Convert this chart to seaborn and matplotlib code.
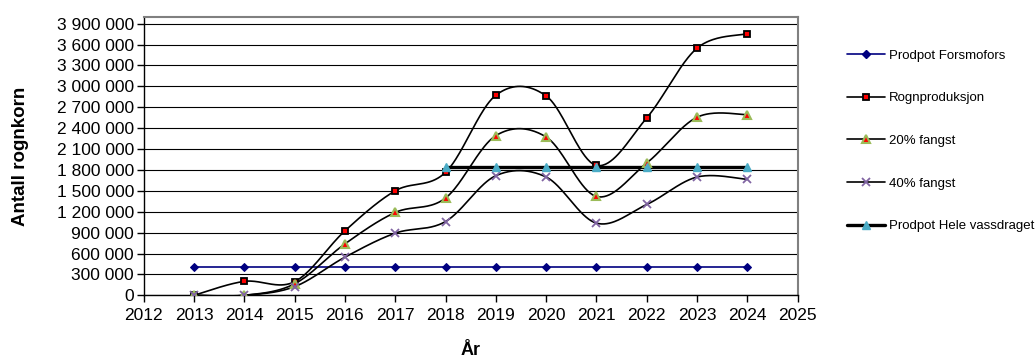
import numpy as np
import pandas as pd
import matplotlib
matplotlib.use("Agg")
import matplotlib.pyplot as plt
from matplotlib.ticker import FuncFormatter, MultipleLocator
from matplotlib.lines import Line2D
import seaborn as sns

# Data
years = [2013, 2014, 2015, 2016, 2017, 2018, 2019, 2020, 2021, 2022, 2023, 2024]
prodpot_forsmofors = [410000] * 12
rognproduksjon = [0, 200000, 195000, 925000, 1500000, 1765000, 2872000,
                  2863000, 1865000, 2547000, 3548000, 3755000]
fangst_20 = [0, 0, 165000, 738000, 1189000, 1396000, 2292000,
             2273000, 1419000, 1899000, 2556000, 2594000]
fangst_40 = [0, 0, 124000, 547000, 892000, 1059000, 1717000,
             1698000, 1036000, 1304000, 1698000, 1664000]
years_hele = [2018, 2019, 2020, 2021, 2022, 2023, 2024]
prodpot_hele = [1835000] * 7

labels = ["Prodpot Forsmofors", "Rognproduksjon", "20% fangst",
          "40% fangst", "Prodpot Hele vassdraget"]


def smooth(xs, ys, n=40):
    """Cubic Bezier smoothing through every point (Catmull-Rom style control points)."""
    x = np.asarray(xs, float)
    y = np.asarray(ys, float)
    px = np.concatenate([[x[0]], x, [x[-1]]])
    py = np.concatenate([[y[0]], y, [y[-1]]])
    out_x, out_y = [], []
    t = np.linspace(0, 1, n)
    for i in range(len(x) - 1):
        p0 = np.array([px[i + 1], py[i + 1]])
        p3 = np.array([px[i + 2], py[i + 2]])
        c1 = p0 + (np.array([px[i + 2], py[i + 2]]) - np.array([px[i], py[i]])) / 6
        c2 = p3 - (np.array([px[i + 3], py[i + 3]]) - np.array([px[i + 1], py[i + 1]])) / 6
        b = ((1 - t) ** 3)[:, None] * p0 + (3 * (1 - t) ** 2 * t)[:, None] * c1 \
            + (3 * (1 - t) * t ** 2)[:, None] * c2 + (t ** 3)[:, None] * p3
        if i > 0:
            b = b[1:]
        out_x.extend(b[:, 0])
        out_y.extend(b[:, 1])
    return pd.DataFrame({"x": out_x, "y": out_y})


sns.set_theme(style="white")
plt.rcParams["font.family"] = ["Liberation Sans", "DejaVu Sans"]
plt.rcParams["text.color"] = "black"
plt.rcParams["axes.labelcolor"] = "black"
plt.rcParams["xtick.color"] = "black"
plt.rcParams["ytick.color"] = "black"

fig = plt.figure(figsize=(10.35, 3.6), dpi=100)
ax = fig.add_axes([0.1388, 0.1797, 0.6319, 0.774])

# Prodpot Forsmofors: straight navy line with diamonds
df_f = pd.DataFrame({"x": years, "y": prodpot_forsmofors})
sns.lineplot(data=df_f, x="x", y="y", ax=ax, color="#000080", lw=1.2,
             marker="D", markersize=3.8, markeredgecolor="#000080",
             markerfacecolor="#000080", estimator=None, legend=False)

# Smoothed series
series = [
    (rognproduksjon, dict(marker="s", markersize=4.6, markerfacecolor="#FF0000",
                          markeredgecolor="#000000", markeredgewidth=1.3)),
    (fangst_20, dict(marker="^", markersize=6, markerfacecolor="#FF0000",
                     markeredgecolor="#9BBB59", markeredgewidth=1.5)),
    (fangst_40, dict(marker="x", markersize=5.5, markeredgecolor="#8064A2",
                     markeredgewidth=1.3)),
]
for vals, mk in series:
    sm = smooth(years, vals)
    sns.lineplot(data=sm, x="x", y="y", ax=ax, color="black", lw=1.2,
                 sort=False, estimator=None, legend=False)
    ax.plot(years, vals, linestyle="none", zorder=4, **mk)

# Prodpot Hele vassdraget: thick black line with cyan triangles
df_h = pd.DataFrame({"x": years_hele, "y": prodpot_hele})
sns.lineplot(data=df_h, x="x", y="y", ax=ax, color="black", lw=2.4,
             estimator=None, legend=False)
ax.plot(years_hele, prodpot_hele, linestyle="none", marker="^", markersize=6.2,
        markerfacecolor="#4BACC6", markeredgecolor="#4BACC6", zorder=5)

# Axes
ax.set_xlim(2012, 2025)
ax.set_ylim(0, 4000000)
ax.xaxis.set_major_locator(MultipleLocator(1))
ax.yaxis.set_major_locator(MultipleLocator(300000))
ax.yaxis.set_major_formatter(FuncFormatter(lambda v, p: f"{int(round(v)):,}".replace(",", " ")))
ax.xaxis.set_major_formatter(FuncFormatter(lambda v, p: f"{int(round(v))}"))
ax.grid(axis="y", color="#000000", lw=0.8)
ax.set_axisbelow(True)
ax.tick_params(axis="both", which="major", direction="out", length=5, width=1,
               color="#000000", labelcolor="#000000", labelsize=12.5, pad=2,
               left=True, bottom=True)
ax.tick_params(axis="x", pad=4)
for side in ("left", "bottom"):
    ax.spines[side].set_color("#000000")
    ax.spines[side].set_linewidth(1.0)
for side in ("top", "right"):
    ax.spines[side].set_color("#808080")
    ax.spines[side].set_linewidth(1.5)

ax.set_xlabel("År", fontsize=13, fontweight="bold", labelpad=14, color="black")
ax.set_ylabel("Antall rognkorn", fontsize=13.5, fontweight="bold", labelpad=20,
              color="black")

# Legend
handles = [
    Line2D([], [], color="#000080", lw=1.2, marker="D", markersize=3.8,
           markerfacecolor="#000080", markeredgecolor="#000080"),
    Line2D([], [], color="black", lw=1.2, **series[0][1]),
    Line2D([], [], color="black", lw=1.2, **series[1][1]),
    Line2D([], [], color="black", lw=1.2, **series[2][1]),
    Line2D([], [], color="black", lw=2.4, marker="^", markersize=6.2,
           markerfacecolor="#4BACC6", markeredgecolor="#4BACC6"),
]
leg = fig.legend(handles, labels, loc="upper left", bbox_to_anchor=(847 / 1035, 0.862),
                 frameon=False, fontsize=9.5, handlelength=2.9, handletextpad=0.25,
                 labelspacing=2.3, borderpad=0, borderaxespad=0)
for txt in leg.get_texts():
    txt.set_color("black")

fig.savefig("out.png", dpi=100)
